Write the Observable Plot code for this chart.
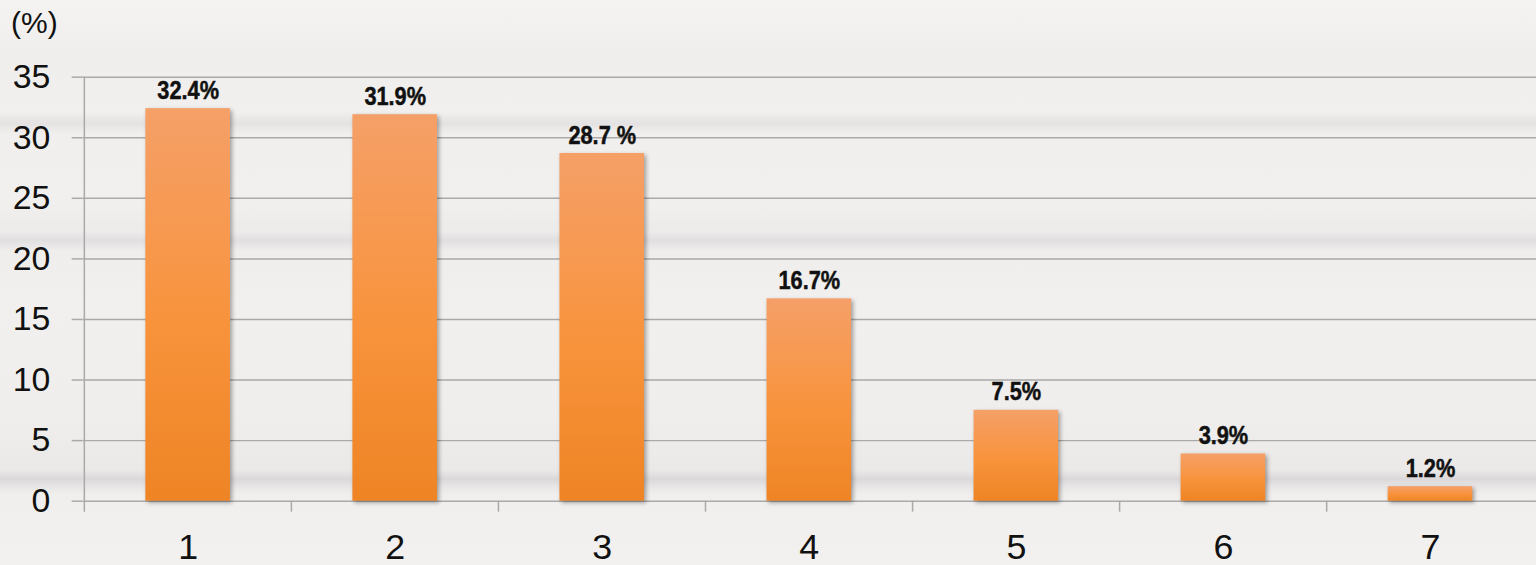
<!DOCTYPE html>
<html><head><meta charset="utf-8">
<script src="https://cdn.jsdelivr.net/npm/d3@7"></script>
<script src="https://cdn.jsdelivr.net/npm/@observablehq/plot@0.6"></script>
<style>
html,body{margin:0;padding:0;overflow:hidden;background:#f0efed;}
#wrap{position:relative;width:1536px;height:565px;overflow:hidden;
background:linear-gradient(to bottom,
 #f4f3f1 0px, #efeeec 60px, #f1f0ee 112px, #e8e6e5 120px, #e4e2e2 124px, #ebe9e8 128px, #f0efed 134px,
 #f1f0ee 200px, #ecebea 232px, #e2dfe0 240px, #e8e5e6 245px, #efeeec 251px, #f1f0ee 300px,
 #efeeec 420px, #ebe9e8 470px, #dcd8da 479px, #e6e3e4 485px, #f0efed 494px, #f2f1ef 565px);}
#unit{position:absolute;left:11px;top:6px;font:30px "Liberation Sans",Arial,sans-serif;color:#111;}
svg{position:absolute;left:0;top:0;}
</style></head><body><div id="wrap"><div id="unit">(%)</div></div>
<script>
const categories = ["1","2","3","4","5","6","7"];
const values = [32.4, 31.9, 28.7, 16.7, 7.5, 3.9, 1.2];
const valueLabels = ["32.4%","31.9%","28.7 %","16.7%","7.5%","3.9%","1.2%"];
const yTicks = [0,5,10,15,20,25,30,35];

const data = categories.map((c,i)=>({cat:c, value:values[i], label:valueLabels[i]}));

const W = 1543, ML = 83, MR = 0;
const step = (W - ML - MR) / categories.length;
const gridColor = "#a9a9a9";

const chart = Plot.plot({
  width: W, height: 565,
  marginLeft: ML, marginRight: MR, marginTop: 77, marginBottom: 62,
  style: {background: "transparent", fontFamily: "Liberation Sans, Arial, sans-serif", color: "#111", overflow: "visible"},
  x: {domain: categories, paddingInner: 0.59, paddingOuter: 0.295, label: null},
  y: {domain: [0, 35], label: null},
  marks: [
    Plot.gridY(yTicks, {stroke: gridColor, strokeOpacity: 1, strokeWidth: 1.5}),
    Plot.axisY(yTicks, {tickSize: 11, tickPadding: 22, fontSize: 34, stroke: gridColor, strokeWidth: 1.5, fill: "#111", label: null}),
    Plot.axisX({tickSize: 0, tickPadding: 32, fontSize: 36, fill: "#111", label: null}),
    Plot.ruleX([categories[0]], {x: d => d, dx: -step/2, y1: 35, y2: 0, insetBottom: -11, stroke: gridColor, strokeWidth: 1.5}),
    Plot.ruleX(categories.slice(1), {x: d => d, dx: -step/2, y1: 0, y2: 0, insetBottom: -11, stroke: gridColor, strokeWidth: 1.5}),
    Plot.barY(data, {x: "cat", y: "value", fill: "url(#barGrad)"}),
    Plot.text(data, {x: "cat", y: "value", text: "label", dy: -10, lineAnchor: "bottom", fontSize: 26, fontWeight: "bold",
      fontFamily: "Liberation Sans, Arial, sans-serif", fill: "#111", stroke: "#111", strokeWidth: 0.5})
  ]
});

const svg = d3.select(chart);
const defs = svg.insert("defs", ":first-child");
const g = defs.append("linearGradient").attr("id", "barGrad").attr("x1", 0).attr("y1", 0).attr("x2", 0).attr("y2", 1);
g.append("stop").attr("offset", "0%").attr("stop-color", "#f5a068");
g.append("stop").attr("offset", "55%").attr("stop-color", "#f8933c");
g.append("stop").attr("offset", "100%").attr("stop-color", "#ee8424");
svg.selectAll('g[aria-label="bar"]').style("filter", "drop-shadow(2px 2px 2px rgba(0,0,0,0.35))");

document.getElementById("wrap").appendChild(chart);

// condense the value labels horizontally
svg.selectAll('g[aria-label="text"] text').each(function() {
  const len = this.getComputedTextLength();
  this.setAttribute("textLength", (len * 0.84).toFixed(1));
  this.setAttribute("lengthAdjust", "spacingAndGlyphs");
});
</script>
</body></html>
